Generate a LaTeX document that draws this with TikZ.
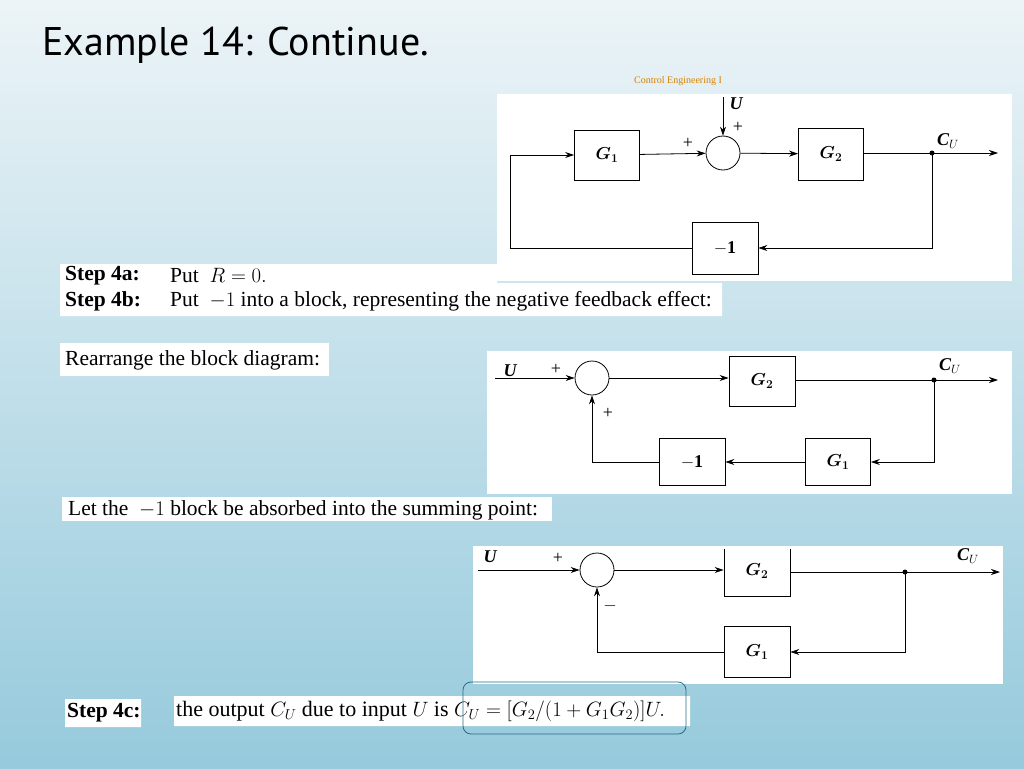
\documentclass[tikz,border=0pt]{standalone}
\usepackage{amsmath}
\usepackage{amssymb}
\usepackage{fontspec}
\setmainfont{Liberation Serif}
\newfontfamily\titlefont{PT Sans}
\usetikzlibrary{arrows.meta, positioning}
\tikzstyle{block} = [draw, thick, fill=white, inner sep=0pt, font=\fontsize{18}{18}\selectfont]
\tikzstyle{sumpt} = [draw, thick, circle, minimum size=34pt, inner sep=0pt]
\tikzstyle{sig} = [thick, -{Stealth[length=9pt,width=6pt]}]
\tikzstyle{lbl} = [font=\fontsize{18}{18}\selectfont\bfseries\itshape]
\tikzstyle{txt} = [anchor=west, inner sep=0pt, font=\fontsize{21.5}{21.5}\selectfont]
\definecolor{bgtop}{RGB}{236,244,247}
\definecolor{bgbot}{RGB}{150,202,220}
\definecolor{hilite}{RGB}{40,110,130}

\begin{document}
\begin{tikzpicture}[x=1pt, y=-1pt]
    \shade[top color=bgtop, bottom color=bgbot] (0,0) rectangle (1024,768);
    \useasboundingbox (0,0) rectangle (1024,768);
    \node[anchor=west, inner sep=0pt, font=\titlefont\fontsize{40}{40}\selectfont] (title) at (42,45) {Example 14: Continue.};
    \node[font=\fontsize{10}{10}\selectfont, text=orange!70!olive] (course) at (678,81) {Control Engineering I};

    % first diagram
    \fill[white] (497,94) rectangle (1012,281);
    \node[block, minimum width=65pt, minimum height=50pt] (G1a) at (607,155) {$\boldsymbol{G_1}$};
    \node[sumpt] (S1) at (723,153) {};
    \node[block, minimum width=65pt, minimum height=52pt] (G2a) at (831,154) {$\boldsymbol{G_2}$};
    \node[block, minimum width=66pt, minimum height=52pt] (Ma) at (725,248) {$\mathbf{-1}$};
    \coordinate (Ua) at (723,97);
    \coordinate (Ja) at (932,153);
    \coordinate (Oa) at (998,153);
    \draw[sig] (G1a) -- (S1);
    \draw[sig] (Ua) -- (S1);
    \draw[sig] (S1) -- (G2a);
    \draw[sig] (G2a.east |- Ja) -- (Oa);
    \draw[sig] (Ja) |- (Ma);
    \draw[sig] (Ma) -| (510,248) |- (G1a);
    \fill (Ja) circle (2.5pt);
    \node[lbl] (UlA) at (736,104) {U};
    \node[font=\fontsize{18}{18}\selectfont] (p1a) at (738,127) {+};
    \node[font=\fontsize{18}{18}\selectfont] (p2a) at (688,143) {+};
    \node[lbl] (CUa) at (948,141) {C$_U$};

    % step 4a / 4b
    \fill[white] (60,264) rectangle (497,316) (497,283) rectangle (722,316);
    \node[txt] (s4a) at (65,276) {\textbf{Step 4a:}};
    \node[txt] (s4at) at (170,276) {Put \ $R=0.$};
    \node[txt] (s4b) at (65,301) {\textbf{Step 4b:}};
    \node[txt] (s4bt) at (170,301) {Put \ $-1$ into a block, representing the negative feedback effect:};

    \fill[white] (60,343) rectangle (329,376);
    \node[txt] (rearr) at (65,360) {Rearrange the block diagram:};

    % second diagram
    \fill[white] (487,351) rectangle (1012,494);
    \node[sumpt] (S2) at (592,378) {};
    \node[block, minimum width=66pt, minimum height=50pt] (G2b) at (762,381) {$\boldsymbol{G_2}$};
    \node[block, minimum width=65pt, minimum height=47pt] (G1b) at (838,462) {$\boldsymbol{G_1}$};
    \node[block, minimum width=66pt, minimum height=47pt] (Mb) at (692,462) {$\mathbf{-1}$};
    \coordinate (Ub) at (495,378);
    \coordinate (Jb) at (934,380);
    \coordinate (Ob) at (998,380);
    \draw[sig] (Ub) -- (S2);
    \draw[sig] (S2) -- (G2b.west |- S2);
    \draw[thick] (G2b.east |- Jb) -- (Jb);
    \draw[sig] (Jb) -- (Ob);
    \draw[sig] (Jb) |- (G1b);
    \draw[sig] (G1b) -- (Mb);
    \draw[sig] (Mb) -| (S2);
    \fill (Jb) circle (2.5pt);
    \node[lbl] (Ulb) at (510,371) {U};
    \node[font=\fontsize{18}{18}\selectfont] (p1b) at (556,369) {+};
    \node[font=\fontsize{18}{18}\selectfont] (p2b) at (608,413) {+};
    \node[lbl] (CUb) at (950,366) {C$_U$};

    \fill[white] (62,497) rectangle (552,521);
    \node[txt] (absorb) at (68,510) {Let the \ $-1$ block be absorbed into the summing point:};

    % third diagram
    \fill[white] (473,546) rectangle (1003,684);
    \node[sumpt] (S3) at (597,570) {};
    \node[block, minimum width=66pt, minimum height=50pt] (G2c) at (757,571) {$\boldsymbol{G_2}$};
    \node[block, minimum width=66pt, minimum height=51pt] (G1c) at (757,652) {$\boldsymbol{G_1}$};
    \coordinate (Uc) at (478,570);
    \coordinate (Jc) at (905,572);
    \coordinate (Oc) at (1000,572);
    \draw[sig] (Uc) -- (S3);
    \draw[sig] (S3) -- (G2c.west |- S3);
    \draw[thick] (G2c.east |- Jc) -- (Jc);
    \draw[sig] (Jc) -- (Oc);
    \draw[sig] (Jc) |- (G1c);
    \draw[sig] (G1c) -| (S3);
    \fill (Jc) circle (2.5pt);
    \fill[white] (700,546) rectangle (810,549);
    \node[lbl] (Ulc) at (490,557) {U};
    \node[font=\fontsize{18}{18}\selectfont] (p1c) at (558,558) {+};
    \node[font=\fontsize{18}{18}\selectfont] (m1c) at (610,606) {$-$};
    \node[lbl] (CUc) at (968,556) {C$_U$};

    % step 4c
    \fill[white] (65,699) rectangle (141,727) (174,696) rectangle (690,726);
    \node[txt] (s4c) at (67,713) {\textbf{Step 4c:}};
    \node[txt, font=\fontsize{22}{22}\selectfont] (s4ct) at (176,711) {the output $C_U$ due to input $U$ is $C_U=[G_2/(1+G_1G_2)]U.$};
    \draw[hilite, thick, rounded corners=8pt] (463,682) rectangle (686,734);
\end{tikzpicture}
\end{document}
